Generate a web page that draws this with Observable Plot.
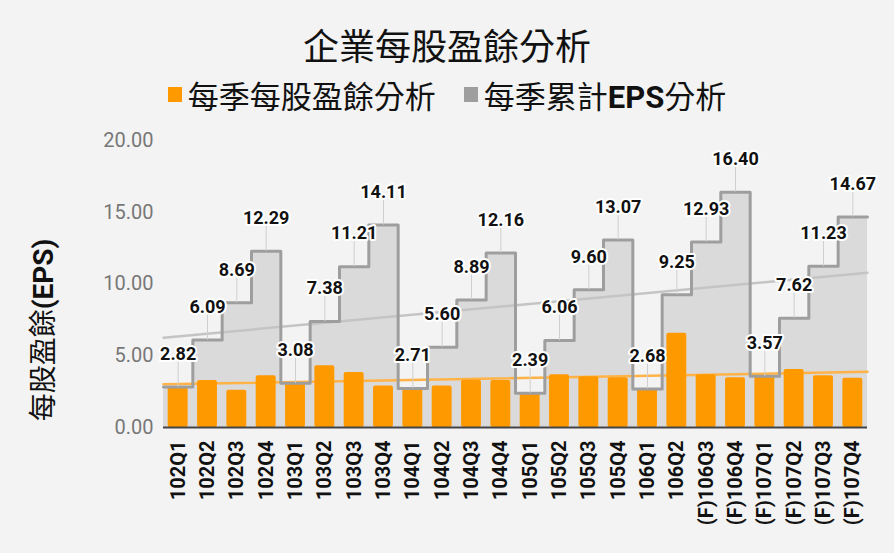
<!DOCTYPE html>
<html>
<head>
<meta charset="utf-8">
<script src="https://cdn.jsdelivr.net/npm/d3@7"></script>
<script src="https://cdn.jsdelivr.net/npm/@observablehq/plot@0.6"></script>
<style>
  html, body { margin: 0; padding: 0; background: #f3f3f3; }
  #wrap { position: relative; width: 894px; height: 553px; background: #f3f3f3; overflow: hidden; }
  #title { position: absolute; left: 0; top: 24px; width: 894px; height: 40px; line-height: 40px; text-align: center;
           font-family: "Noto Sans CJK TC", sans-serif; font-size: 36px; color: #111; }
  #legend { position: absolute; left: 0; top: 76px; width: 894px; height: 36px; display: flex; justify-content: center; align-items: center;
            font-family: "Noto Sans CJK TC", sans-serif; font-size: 31px; color: #111; }
  .item { display: flex; align-items: center; margin: 0 14px; }
  .sw { width: 14px; height: 15px; margin-right: 6px; }
  .lat { font-family: Roboto, sans-serif; font-weight: bold; }
  #ylabel { position: absolute; left: 41px; top: 330px; transform: translate(-50%, -50%) rotate(-90deg); white-space: nowrap;
            font-family: "Noto Sans CJK TC", sans-serif; font-size: 28px; color: #111; }
  #chart { position: absolute; left: 0; top: 115px; }
</style>
</head>
<body>
<div id="wrap">
  <div id="title">企業每股盈餘分析</div>
  <div id="legend"></div>
  <div id="ylabel">每股盈餘<span class="lat">(EPS)</span></div>
  <div id="chart"></div>
</div>
<script>
const quarters = ["102Q1","102Q2","102Q3","102Q4","103Q1","103Q2","103Q3","103Q4",
  "104Q1","104Q2","104Q3","104Q4","105Q1","105Q2","105Q3","105Q4",
  "106Q1","106Q2","(F)106Q3","(F)106Q4","(F)107Q1","(F)107Q2","(F)107Q3","(F)107Q4"];
const quarterlyEPS = [2.82,3.27,2.60,3.60, 3.08,4.30,3.83,2.90, 2.71,2.89,3.29,3.27,
  2.39,3.67,3.54,3.47, 2.68,6.57,3.68,3.47, 3.57,4.05,3.61,3.44];
const cumulativeEPS = [2.82,6.09,8.69,12.29, 3.08,7.38,11.21,14.11, 2.71,5.60,8.89,12.16,
  2.39,6.06,9.60,13.07, 2.68,9.25,12.93,16.40, 3.57,7.62,11.23,14.67];
const yTicks = [0,5,10,15,20];
const seriesNames = ["每季每股盈餘分析", "每季累計EPS分析"];
const seriesColors = ["#ff9900", "#9e9e9e"];

// legend
const legend = document.getElementById("legend");
legend.innerHTML =
  `<div class="item"><div class="sw" style="background:${seriesColors[0]}"></div><span>${seriesNames[0]}</span></div>` +
  `<div class="item"><div class="sw" style="background:${seriesColors[1]}"></div><span>每季累計<span class="lat">EPS</span>分析</span></div>`;

const table = quarters.map((q, i) => ({i, q, eps: quarterlyEPS[i], cum: cumulativeEPS[i]}));
const n = table.length;
const stepData = table.map(d => ({x: d.i - 0.5, y: d.cum})).concat([{x: n - 0.5, y: table[n - 1].cum}]);

function trend(key) {
  const mx = d3.mean(table, d => d.i), my = d3.mean(table, d => d[key]);
  const slope = d3.sum(table, d => (d.i - mx) * (d[key] - my)) / d3.sum(table, d => (d.i - mx) ** 2);
  return [-0.5, n - 0.5].map(x => ({x, y: my + slope * (x - mx)}));
}

const chart = Plot.plot({
  width: 894,
  height: 438,
  marginTop: 25,
  marginBottom: 126,
  marginLeft: 163,
  marginRight: 27,
  style: {background: "transparent", fontFamily: "Roboto, sans-serif"},
  x: {type: "linear", domain: [-0.5, n - 0.5], axis: null},
  y: {domain: [0, 20], axis: null},
  marks: [
    Plot.areaY(stepData, {x: "x", y: "y", curve: "step-after", fill: "#dadada"}),
    Plot.line(trend("eps"), {x: "x", y: "y", stroke: "#ffb347", strokeWidth: 2.5}),
    Plot.rectY(table, {x1: d => d.i - 0.5, x2: d => d.i + 0.5, y: "eps", fill: seriesColors[0], insetLeft: 4.7, insetRight: 4.7, rx: 2}),
    Plot.line(trend("cum"), {x: "x", y: "y", stroke: "#c4c4c4", strokeWidth: 2.5}),
    Plot.lineY(stepData, {x: "x", y: "y", curve: "step-after", stroke: "#9e9e9e", strokeWidth: 3, strokeLinejoin: "round"}),
    Plot.ruleX(table, {x: "i", y1: "cum", y2: d => d.cum + 1.75, stroke: "#cfcfcf", strokeWidth: 1}),
    Plot.text(table, {x: "i", y: "cum", text: d => d.cum.toFixed(2), dy: -33, fontSize: 18, fontWeight: "bold",
      fill: "#111", stroke: "white", strokeWidth: 4}),
    Plot.ruleY([0], {stroke: "#444", strokeWidth: 2}),
    Plot.axisY({ticks: yTicks, tickFormat: d3.format(".2f"), tickSize: 0, tickPadding: 10, fontSize: 20, fill: "#777", label: null}),
    Plot.axisX({ticks: d3.range(n), tickFormat: i => quarters[i], tickRotate: -90, tickSize: 0, tickPadding: 13,
      fontSize: 20, fontWeight: "bold", fill: "#111", label: null})
  ]
});
document.getElementById("chart").appendChild(chart);
</script>
</body>
</html>
